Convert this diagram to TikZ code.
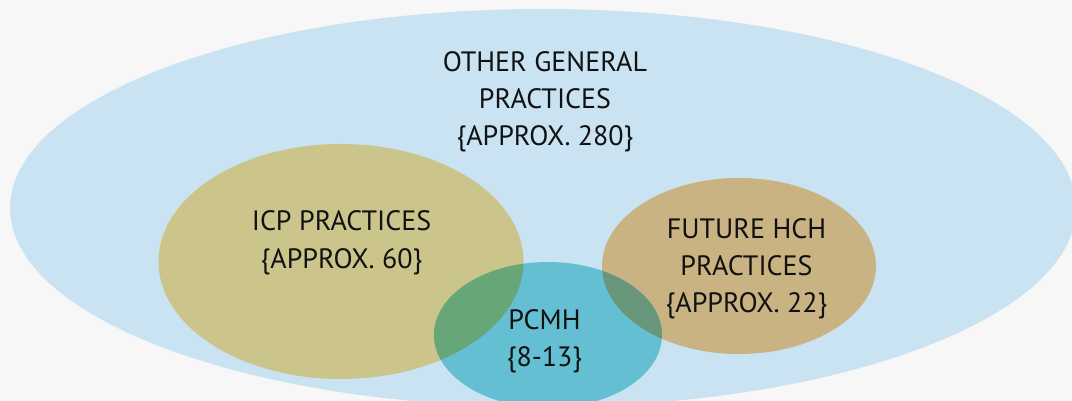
\documentclass[tikz,border=0pt]{standalone}
\usepackage{fontspec}
\setmainfont{PT Sans}
\definecolor{bgc}{HTML}{F7F7F7}
\definecolor{bigc}{HTML}{CAE3F2}
\definecolor{icpc}{HTML}{CBC58C}
\definecolor{hchc}{HTML}{C9B383}
\definecolor{pcmhc}{HTML}{64BFD2}
\definecolor{ovicp}{HTML}{66A677}
\definecolor{ovhch}{HTML}{67967A}
\definecolor{txtc}{HTML}{111111}
\tikzset{
  lbl/.style={anchor=base, inner sep=0pt, text=txtc,
    font=\fontsize{28}{37}\selectfont},
}
\newcommand{\lines}[1]{\begin{tabular}[t]{@{}c@{}}#1\end{tabular}}
\begin{document}
\begin{tikzpicture}[x=1pt,y=-1pt]
\useasboundingbox (0,0) rectangle (1072,401);
\clip (0,0) rectangle (1072,401);
\fill[bgc] (0,0) rectangle (1072,401);
% big ellipse
\fill[bigc] (543,208) ellipse [x radius=533, y radius=199];
% ICP and HCH
\fill[icpc] (341,261.5) ellipse [x radius=182.5, y radius=117.5];
\fill[hchc] (739,266) ellipse [x radius=137, y radius=88];
% PCMH
\fill[pcmhc] (548,335) ellipse [x radius=114, y radius=73];
% overlaps
\begin{scope}
  \clip (341,261.5) ellipse [x radius=182.5, y radius=117.5];
  \fill[ovicp] (548,335) ellipse [x radius=114, y radius=73];
\end{scope}
\begin{scope}
  \clip (739,266) ellipse [x radius=137, y radius=88];
  \fill[ovhch] (548,335) ellipse [x radius=114, y radius=73];
\end{scope}
% labels
\node[lbl] (other) at (545,72) {\lines{OTHER GENERAL\\PRACTICES\\\{APPROX. 280\}}};
\node[lbl] (icp) at (341.5,231) {\lines{ICP PRACTICES\\\{APPROX. 60\}}};
\node[lbl] (hch) at (746.5,239) {\lines{FUTURE HCH\\PRACTICES\\\{APPROX. 22\}}};
\node[lbl] (pcmh) at (544.5,329) {\lines{PCMH\\\{8-13\}}};
\end{tikzpicture}
\end{document}
